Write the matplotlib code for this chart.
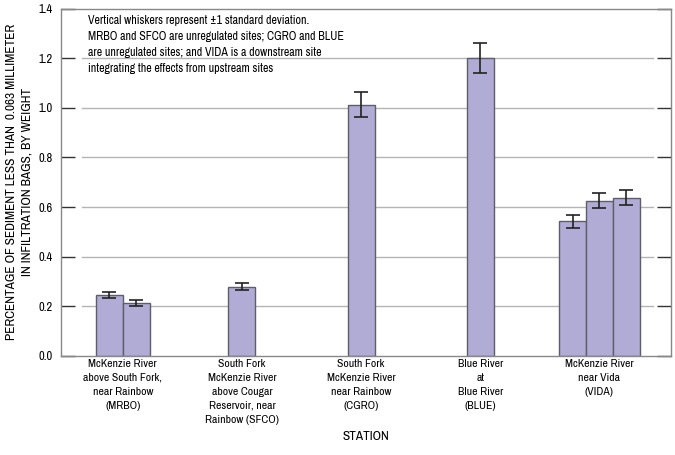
import numpy as np
import matplotlib
matplotlib.use("Agg")
import matplotlib.pyplot as plt
import matplotlib.font_manager as fm

# pick a narrow font if one is installed, the original uses a condensed face
fonts = fm.fontManager.ttflist
narrow = sorted({f.name for f in fonts if 'Narrow' in f.name or 'Condensed' in f.name})
dejavu_cond = [f for f in fonts if f.name == 'DejaVu Sans' and f.stretch == 'condensed']
if narrow:
    plt.rcParams['font.family'] = [narrow[0], 'DejaVu Sans']
    scale = 1.0
elif dejavu_cond:
    plt.rcParams['font.family'] = ['DejaVu Sans']
    plt.rcParams['font.stretch'] = 'condensed'
    scale = 0.9
else:
    plt.rcParams['font.family'] = ['Roboto', 'DejaVu Sans']
    scale = 0.85

# station labels
stations = ["McKenzie River\nabove South Fork,\nnear Rainbow\n(MRBO)",
            "South Fork\nMcKenzie River\nabove Cougar\nReservoir, near\nRainbow (SFCO)",
            "South Fork\nMcKenzie River\nnear Rainbow\n(CGRO)",
            "Blue River\nat\nBlue River\n(BLUE)",
            "McKenzie River\nnear Vida\n(VIDA)"]

# one entry per bar: station index, value, std dev
bar_station = [0, 0, 1, 2, 3, 4, 4, 4]
bar_values = [0.245, 0.213, 0.279, 1.012, 1.200, 0.542, 0.626, 0.638]
bar_sd = [0.012, 0.011, 0.015, 0.050, 0.060, 0.028, 0.031, 0.031]

yticks = [0.0, 0.2, 0.4, 0.6, 0.8, 1.0, 1.2, 1.4]

note = ("Vertical whiskers represent \u00b11 standard deviation.\n"
        "MRBO and SFCO are unregulated sites; CGRO and BLUE\n"
        "are unregulated sites; and VIDA is a downstream site\n"
        "integrating the effects from upstream sites")

fig = plt.figure(figsize=(6.75, 4.55), dpi=100)
ax = fig.add_axes([0.0904, 0.2176, 0.9036, 0.7637])

width = 0.226
# x position of each bar, bars of a station side by side around its center
xs = []
for i, s in enumerate(bar_station):
    n = bar_station.count(s)
    k = bar_station[:i].count(s)
    xs.append(s + (k - (n - 1) / 2) * width)

for y in yticks[1:-1]:
    ax.axhline(y, xmin=0.035, xmax=0.97, color='#b4b4b4', lw=1.0, zorder=0)

ax.bar(xs, bar_values, width=width, color='#b0acd6', edgecolor='#5e5e6a',
       linewidth=1.0, zorder=2)
ax.errorbar(xs, bar_values, yerr=bar_sd, fmt='none', ecolor='#222222',
            elinewidth=1.2, capsize=5, capthick=1.2, zorder=3)

ax.set_xlim(-0.518, 4.6)
ax.set_ylim(0, 1.4)
ax.set_yticks(yticks)
ax.set_yticklabels(["%.1f" % v for v in yticks], fontsize=9.0 * scale)
ax.set_xticks(range(len(stations)))
ax.set_xticklabels(stations, fontsize=8.4 * scale, linespacing=1.5, va='top')
ax.tick_params(axis='x', length=0, pad=2)
ax.tick_params(axis='y', direction='in', length=10, width=1.0, color='#333333',
               right=True, pad=6)

for sp in ax.spines.values():
    sp.set_color('#888888')
    sp.set_linewidth(1.0)

ax.text(0.044, 0.982, note, transform=ax.transAxes, fontsize=8.6 * scale,
        va='top', ha='left', linespacing=1.58, zorder=4)

ax.set_xlabel("STATION", fontsize=9.5 * scale, va='center')
ax.xaxis.set_label_coords(0.5, -0.233)
ax.set_ylabel("PERCENTAGE OF SEDIMENT LESS THAN  0.063 MILLIMETER\n"
              "IN INFILTRATION BAGS, BY WEIGHT", fontsize=9.6 * scale,
              va='center', linespacing=1.5)
ax.yaxis.set_label_coords(-0.068, 0.5)

fig.savefig("out.png", dpi=100)
